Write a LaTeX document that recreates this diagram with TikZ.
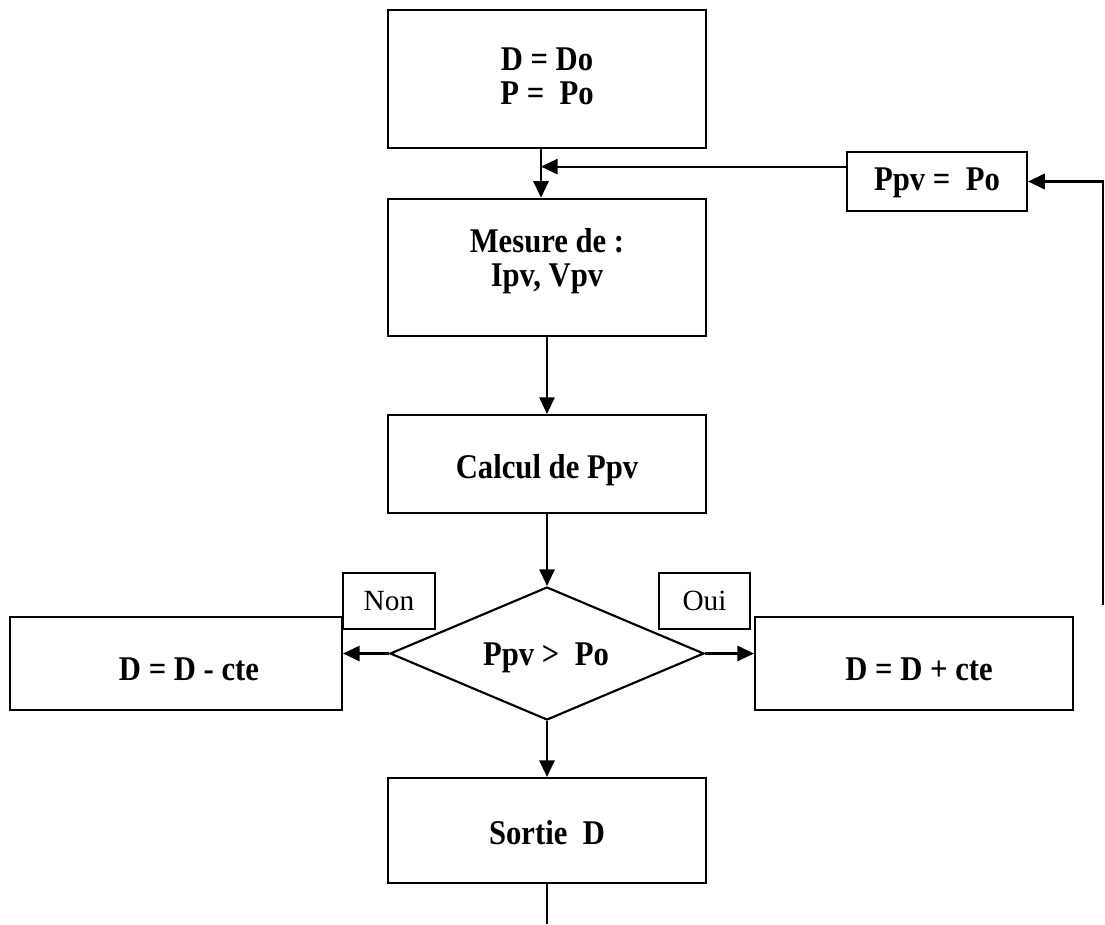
\documentclass[tikz,border=0pt]{standalone}
\usepackage{fontspec}
\usepackage{graphicx}
\setmainfont{Liberation Serif}
\usetikzlibrary{arrows.meta,shapes.geometric}
% bold labels are set slightly taller than the plain face
\newcommand{\tallbf}[1]{\scalebox{1}[1.13]{#1}}
\begin{document}
\begin{tikzpicture}[x=0.75pt,y=-0.75pt,
  box/.style={draw,rectangle,line width=1.6pt,inner sep=0pt},
  btxt/.style={font=\fontsize{23}{25.5}\selectfont\bfseries,align=center,inner sep=0pt},
  tag/.style={draw,rectangle,line width=1.6pt,inner sep=0pt,minimum width=69pt,minimum height=42pt,
    font=\fontsize{22}{24}\selectfont},
  conn/.style={line width=1.6pt,-{Triangle[length=12.5pt,width=11.5pt]}},
  wire/.style={line width=1.6pt}]
\useasboundingbox (0,0) rectangle (1105,924);

% main column
\node[box,minimum width=238.5pt,minimum height=103.5pt] (init) at (547,79) {};
\node[btxt] (initT) at (547,76) {\tallbf{D = Do}\\\tallbf{P =\ \ Po}};
\node[box,minimum width=238.5pt,minimum height=103pt] (mes) at (547,267.5) {};
\node[btxt] (mesT) at (547,261) {\tallbf{Mesure de :}\\\tallbf{Ipv, Vpv}};
\node[box,minimum width=238.5pt,minimum height=73.5pt] (calc) at (547,464) {};
\node[btxt] (calcT) at (547,470) {\tallbf{Calcul de Ppv}};
\node[draw,diamond,line width=1.6pt,inner sep=0pt,minimum width=235.5pt,minimum height=99.75pt] (test) at (547,653.5) {};
\node[btxt] (testT) at (546,658) {\tallbf{Ppv >\ \ Po}};
\node[box,minimum width=238.5pt,minimum height=78.75pt] (out) at (547,830.5) {};
\node[btxt] (outT) at (547,833) {\tallbf{Sortie\ \ D}};

% branches
\node[box,minimum width=249pt,minimum height=69.75pt] (dec) at (176,663.5) {};
\node[btxt] (decT) at (189,669) {\tallbf{D = D - cte}};
\node[box,minimum width=238.5pt,minimum height=69.75pt] (inc) at (914,663.5) {};
\node[btxt] (incT) at (919,669) {\tallbf{D = D + cte}};
\node[tag,minimum width=69pt] (non) at (389,601) {Non};
\node[tag,minimum width=68pt] (oui) at (704.5,601) {Oui};

% feedback
\node[box,minimum width=135pt,minimum height=44.25pt] (upd) at (937,181.5) {};
\node[btxt] (updT) at (937,183) {\tallbf{Ppv =\ \ Po}};
\coordinate (loopEnd) at (1103,605);
\coordinate (outEnd) at (546,924);

% connectors
\draw[conn] ([xshift=-4.5pt]init.south) -- ([xshift=-4.5pt]mes.north) coordinate[pos=0.36] (joinPt);
\draw[conn] (upd.west |- joinPt) -- (joinPt);
\draw[conn] (mes.south) -- (calc.north);
\draw[conn] (calc.south) -- (test.north);
\draw[conn] (test.west) -- (dec.east |- test.west);
\draw[conn] (test.east) -- (inc.west |- test.east);
\draw[conn] (test.south) -- (out.north);
\draw[wire] (out.south) -- (out.south |- outEnd);
\draw[conn] (loopEnd) -- (loopEnd |- upd.east) -- (upd.east);
\end{tikzpicture}
\end{document}
